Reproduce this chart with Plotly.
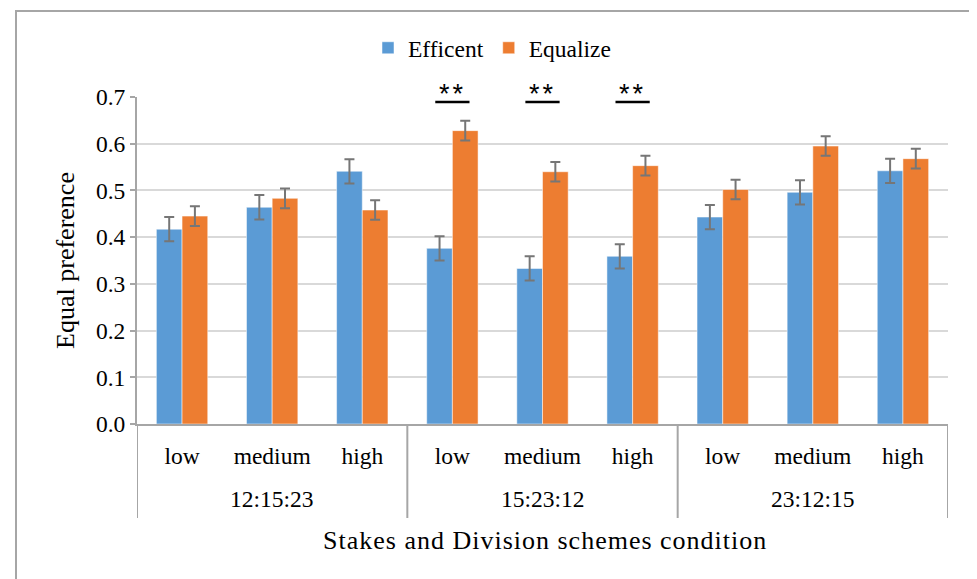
import plotly.graph_objects as go

# ---- data ----
groups = ["12:15:23", "15:23:12", "23:12:15"]
levels = ["low", "medium", "high"]
efficient = [0.417, 0.464, 0.541, 0.376, 0.333, 0.359, 0.443, 0.496, 0.542]
equalize = [0.445, 0.483, 0.458, 0.628, 0.540, 0.553, 0.502, 0.595, 0.568]
efficient_err = [0.026, 0.026, 0.026, 0.026, 0.026, 0.026, 0.026, 0.026, 0.026]
equalize_err = [0.021, 0.021, 0.021, 0.021, 0.021, 0.021, 0.021, 0.021, 0.021]
significance = ["", "", "", "**", "**", "**", "", "", ""]
y_ticks = [0.0, 0.1, 0.2, 0.3, 0.4, 0.5, 0.6, 0.7]

n = len(groups) * len(levels)
xpos = list(range(n))
tick_text = [lv for g in groups for lv in levels]

# ---- layout geometry (reference-screen pixels; page body has an 8px margin) ----
OFF = 8
W, H = 977 - OFF, 579 - OFF
PL, PR, PT, PB = 137, 948, 97, 424          # plot area in screen px
L, T = PL - OFF, PT - OFF
R = W - (PR - OFF)
B = H - (PB - OFF)
PW, PH = PR - PL, PB - PT


def px_x(p):
    return (p - PL) / PW


def px_y(p):
    return (PB - p) / PH


SERIF = "Liberation Serif, Times New Roman, serif"
GRAY = "#a6a6a6"
FS = 23.5

fig = go.Figure()
fig.add_trace(go.Bar(
    x=xpos, y=efficient, name="Efficent",
    marker=dict(color="#5B9BD5", line=dict(color="white", width=0.5)),
    error_y=dict(type="data", array=efficient_err, color="#767676", thickness=2, width=5),
))
fig.add_trace(go.Bar(
    x=xpos, y=equalize, name="Equalize",
    marker=dict(color="#ED7D31", line=dict(color="white", width=0.5)),
    error_y=dict(type="data", array=equalize_err, color="#767676", thickness=2, width=5),
))

shapes = []
annotations = []

# outer border
shapes.append(dict(type="rect", xref="paper", yref="paper",
                   x0=px_x(16), x1=px_x(976), y0=px_y(11), y1=px_y(620),
                   line=dict(color=GRAY, width=2), fillcolor="rgba(0,0,0,0)", layer="below"))

# group dividers and group labels
ng = len(levels)
for gi in range(len(groups) + 1):
    shapes.append(dict(type="line", xref="x", yref="paper",
                       x0=gi * ng - 0.5, x1=gi * ng - 0.5, y0=0, y1=px_y(518),
                       line=dict(color=GRAY, width=2)))
for gi, g in enumerate(groups):
    annotations.append(dict(x=gi * ng + (ng - 1) / 2, xref="x", y=px_y(499), yref="paper",
                            text=g, showarrow=False, yanchor="middle",
                            font=dict(family=SERIF, size=FS, color="#000")))

# white gap in top gridline behind significance marks
sig_idx = [i for i, s in enumerate(significance) if s]
if sig_idx:
    shapes.append(dict(type="rect", xref="x", yref="paper",
                       x0=min(sig_idx) - 0.69, x1=max(sig_idx) + 0.7,
                       y0=px_y(100), y1=px_y(94), fillcolor="white",
                       line=dict(width=0), layer="above"))
for i, s in enumerate(significance):
    if not s:
        continue
    annotations.append(dict(x=i, xref="x", y=px_y(94), yref="paper",
                            text="<span style='letter-spacing:3px'>" + s + "</span>",
                            showarrow=False, yanchor="middle",
                            font=dict(family="Liberation Sans, Arial, sans-serif", size=27, color="#000")))
    shapes.append(dict(type="line", xref="x", yref="paper",
                       x0=i - 0.19, x1=i + 0.19, y0=px_y(102), y1=px_y(102),
                       line=dict(color="#000", width=2.5), layer="above"))

# x-axis title
annotations.append(dict(x=px_x(545), xref="paper", y=px_y(540), yref="paper",
                        text="<span style='letter-spacing:1px'>Stakes and Division schemes condition</span>",
                        showarrow=False, yanchor="middle",
                        font=dict(family=SERIF, size=26, color="#000")))

fig.update_layout(
    width=W, height=H,
    margin=dict(l=L, r=R, t=T, b=B, pad=0),
    paper_bgcolor="white", plot_bgcolor="white",
    barmode="group", bargap=0.43, bargroupgap=0,
    font=dict(family=SERIF, color="#000"),
    showlegend=True,
    legend=dict(orientation="h", x=px_x(492), xanchor="center", y=px_y(48), yanchor="middle",
                font=dict(family=SERIF, size=FS, color="#000"), traceorder="normal",
                itemwidth=30, bgcolor="rgba(0,0,0,0)"),
    xaxis=dict(range=[-0.5, n - 0.5], tickmode="array", tickvals=xpos, ticktext=tick_text,
               showgrid=False, zeroline=False, showline=True, linecolor=GRAY, linewidth=2,
               ticks="outside", ticklen=10, tickcolor="rgba(0,0,0,0)",
               tickfont=dict(family=SERIF, size=FS, color="#000")),
    yaxis=dict(range=[0, 0.7], tickmode="array", tickvals=y_ticks, tickformat=".1f",
               showgrid=True, gridcolor="#d9d9d9", gridwidth=1.5, zeroline=False,
               showline=True, linecolor=GRAY, linewidth=2,
               ticks="outside", ticklen=5, tickcolor=GRAY, tickwidth=1.5,
               tickfont=dict(family=SERIF, size=FS, color="#000"),
               title=dict(text="Equal preference", standoff=14,
                          font=dict(family=SERIF, size=26, color="#000"))),
    shapes=shapes, annotations=annotations,
)

fig.write_html("out.html")
